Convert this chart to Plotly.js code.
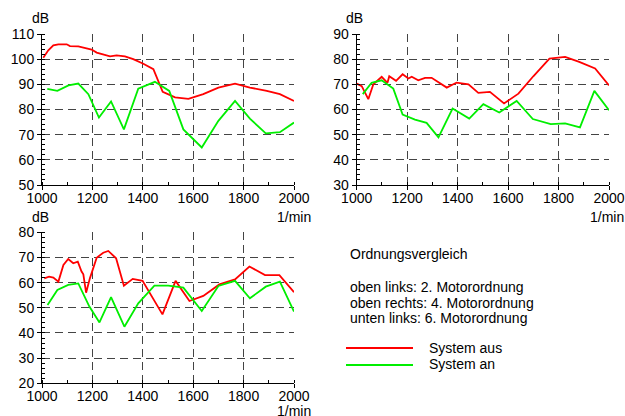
<!DOCTYPE html>
<html><head><meta charset="utf-8">
<script src="https://cdn.plot.ly/plotly-3.0.1.min.js"></script>
<style>html,body{margin:0;padding:0;background:#fff}#c{width:625px;height:416px}</style>
</head><body><div id="c"></div>
<script>
// Panel 1: oben links, 2. Motorordnung
const p1AusX = [1005,1025,1045,1065,1098,1111,1144,1197,1217,1270,1296,1329,1362,1402,1442,1479,1528,1581,1640,1700,1766,1825,1892,1944,2000];
const p1AusY = [100.6,103.5,105.5,105.9,105.9,105.2,105.1,103.8,102.6,101.1,101.5,101.1,100.0,98.2,96.0,87.0,84.8,84.2,86.1,88.7,90.3,88.7,87.4,86.1,83.4];
const p1AnX = [1021,1061,1105,1144,1184,1226,1274,1325,1382,1448,1505,1561,1634,1700,1766,1825,1888,1944,2000];
const p1AnY = [88.2,87.4,89.6,90.3,86.1,76.8,83.2,72.1,88.3,91.0,87.4,72.1,64.9,75.5,83.4,76.4,70.5,71.0,74.8];
// Panel 2: oben rechts, 4. Motorordnung
const p2AusX = [1000,1020,1046,1066,1099,1122,1129,1156,1182,1205,1218,1244,1271,1297,1357,1396,1443,1482,1528,1584,1641,1700,1764,1826,1882,1945,2000];
const p2AusY = [70.3,69.3,64.1,70.0,73.0,70.6,73.2,71.4,74.0,72.3,73.0,71.6,72.6,72.6,68.7,70.7,70.0,66.6,67.0,62.4,66.3,73.2,80.2,80.9,78.9,76.3,69.6];
const p2AnX = [1024,1059,1099,1145,1182,1231,1277,1324,1380,1446,1502,1565,1634,1698,1769,1826,1885,1942,2000];
const p2AnY = [66.1,70.6,71.6,68.3,58.0,56.0,54.7,48.9,60.4,56.4,62.1,58.8,63.4,56.2,54.2,54.5,52.9,67.4,59.7];
// Panel 3: unten links, 6. Motorordnung
const p3AusX = [1009,1028,1045,1065,1085,1104,1124,1142,1157,1164,1175,1190,1217,1243,1263,1294,1325,1360,1399,1478,1530,1585,1640,1704,1766,1823,1885,1942,2000];
const p3AusY = [61.7,62.4,62.0,60.4,67.0,69.4,67.7,68.3,64.4,63.3,56.0,61.7,69.9,71.9,72.6,69.7,58.8,61.5,60.7,47.4,60.7,52.7,54.7,59.3,61.3,66.4,63.0,63.0,56.2];
const p3AnX = [1022,1061,1104,1144,1188,1228,1274,1327,1382,1446,1501,1561,1634,1700,1766,1825,1888,1944,2000];
const p3AnY = [51.1,57.1,59.1,59.7,50.5,44.2,54.2,42.5,51.8,58.8,58.8,58.0,48.7,58.7,60.7,53.8,58.4,60.4,48.5];

const seriesNames = ["System aus","System an"];
const seriesColors = ["#ff0000","#00ee00"];
const titleText = "Ordnungsvergleich";
const infoLines = ["oben links: 2. Motorordnung","oben rechts: 4. Motorordnung","unten links: 6. Motorordnung"];
const yRanges = [[50,110],[30,90],[20,80]];
const xRange = [1000,2000];
const yUnit = "dB", xUnit = "1/min";

const W = 625, H = 416;
const px = v => v / W, py = v => 1 - v / H;
const FONT = {family: "Liberation Sans, Arial, sans-serif", size: 14, color: "#000"};

function line(x, y, i, xa, ya) {
  return {x, y, type: "scatter", mode: "lines", name: seriesNames[i], showlegend: false,
    xaxis: xa, yaxis: ya, line: {color: seriesColors[i], width: 1.8}, hoverinfo: "skip"};
}
const data = [
  line(p1AusX, p1AusY, 0, "x", "y"), line(p1AnX, p1AnY, 1, "x", "y"),
  line(p2AusX, p2AusY, 0, "x2", "y2"), line(p2AnX, p2AnY, 1, "x2", "y2"),
  line(p3AusX, p3AusY, 0, "x3", "y3"), line(p3AnX, p3AnY, 1, "x3", "y3")
];

function xax(dom, anchor) {
  return {domain: dom, anchor, range: xRange, tick0: 1000, dtick: 200, showline: true, linecolor: "#000", linewidth: 1,
    ticks: "outside", ticklen: 4, tickcolor: "#000", showgrid: true, gridcolor: "#444", griddash: "8px,5px", gridwidth: 1,
    zeroline: false, tickfont: FONT, fixedrange: true, ticklabelstandoff: -4,
    minor: {dtick: 100, tick0: 1000, ticks: "inside", ticklen: 3, tickcolor: "#000", showgrid: false}};
}
function yax(dom, anchor, r) {
  return {domain: dom, anchor, range: r, tick0: r[0], dtick: 10, showline: true, linecolor: "#000", linewidth: 1,
    ticks: "outside", ticklen: 4, tickcolor: "#000", showgrid: true, gridcolor: "#444", griddash: "8px,5px", gridwidth: 1,
    zeroline: false, tickfont: FONT, fixedrange: true,
    minor: {dtick: 2, tick0: r[0], ticks: "inside", ticklen: 3, tickcolor: "#000", showgrid: false}};
}
const xd1 = [px(42), px(294)], xd2 = [px(356.7), px(609)];
const ydTop = [py(185), py(34)], ydBot = [py(383.3), py(232.3)];

function ann(text, x, y, xanchor) {
  return {text, x: px(x), y: py(y), xref: "paper", yref: "paper", xanchor: xanchor || "center", yanchor: "middle",
    showarrow: false, font: FONT};
}
const annotations = [
  ann(yUnit, 40, 18), ann(yUnit, 355, 18), ann(yUnit, 40, 217),
  ann(xUnit, 294, 217), ann(xUnit, 607, 217), ann(xUnit, 294, 411),
  ann(titleText, 348, 254, "left"),
  ann(infoLines[0], 348, 287, "left"), ann(infoLines[1], 348, 303, "left"), ann(infoLines[2], 348, 318, "left"),
  ann(seriesNames[0], 427, 348, "left"), ann(seriesNames[1], 427, 364, "left")
];
const shapes = [
  {type: "line", xref: "paper", yref: "paper", x0: px(346), x1: px(413), y0: py(348), y1: py(348), line: {color: seriesColors[0], width: 1.8}},
  {type: "line", xref: "paper", yref: "paper", x0: px(346), x1: px(413), y0: py(365), y1: py(365), line: {color: seriesColors[1], width: 1.8}}
];

const layout = {
  width: W, height: H, margin: {l: 0, r: 0, t: 0, b: 0}, paper_bgcolor: "#fff", plot_bgcolor: "#fff",
  font: FONT, showlegend: false,
  xaxis: xax(xd1, "y"), yaxis: yax(ydTop, "x", yRanges[0]),
  xaxis2: xax(xd2, "y2"), yaxis2: yax(ydTop, "x2", yRanges[1]),
  xaxis3: xax(xd1, "y3"), yaxis3: yax(ydBot, "x3", yRanges[2]),
  annotations, shapes
};
Plotly.newPlot("c", data, layout, {staticPlot: true, displayModeBar: false});
</script></body></html>
